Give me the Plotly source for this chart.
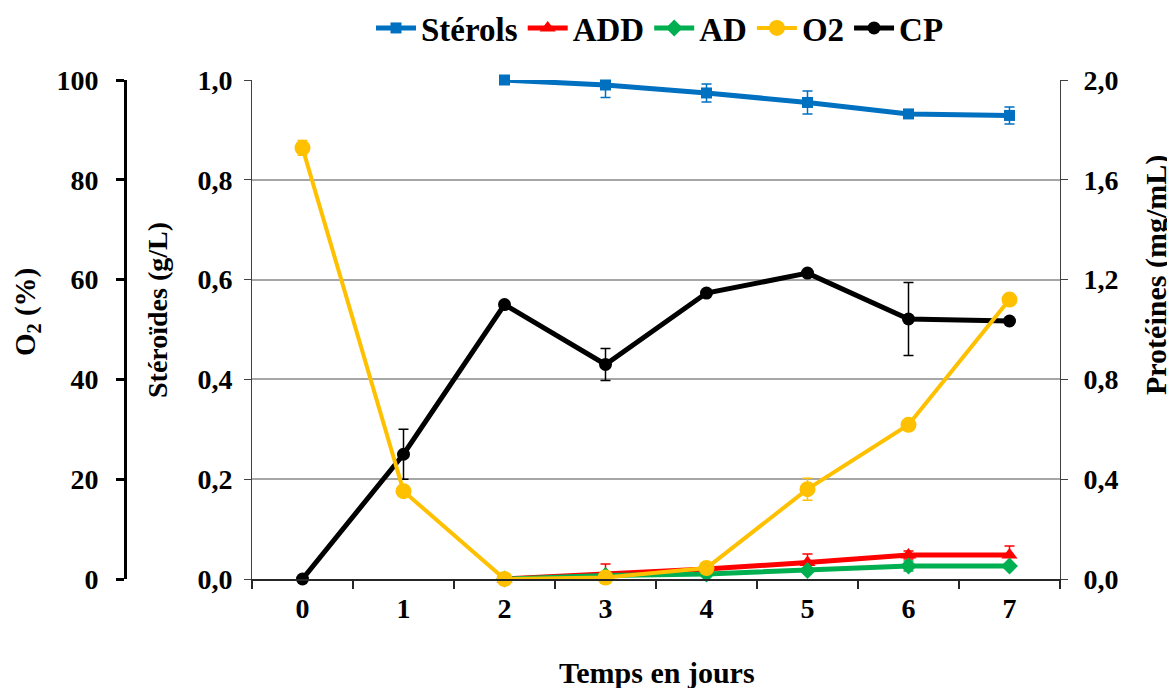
import plotly.graph_objects as go

days = ["0", "1", "2", "3", "4", "5", "6", "7"]

sterols = [None, None, 1.00, 0.990, 0.974, 0.955, 0.932, 0.929]
sterols_err = [0, 0, 0, 0.025, 0.018, 0.023, 0.005, 0.017]

add = [None, None, 0.0, 0.010, 0.020, 0.033, 0.048, 0.048]
add_err = [0, 0, 0, 0.020, 0.005, 0.017, 0.008, 0.018]

ad = [None, None, 0.0, 0.007, 0.010, 0.017, 0.026, 0.026]
ad_err = [0, 0, 0, 0.003, 0.004, 0.005, 0.010, 0.004]

o2 = [86.4, 17.6, 0.0, 0.3, 2.2, 18.0, 30.9, 56.0]
o2_err = [1.5, 0.8, 0, 0.5, 0.5, 2.2, 0.8, 0.8]

cp = [0.0, 0.50, 1.10, 0.86, 1.146, 1.226, 1.042, 1.034]
cp_err = [0, 0.10, 0, 0.064, 0, 0, 0.146, 0]

FONT = "Liberation Serif"
FS = 28
OFF = 8  # default page body margin

fig = go.Figure()

def err(vals, color):
    return dict(type="data", array=vals, visible=True, color=color, thickness=1.5, width=5)

common = dict(mode="lines+markers", cliponaxis=False)
fig.add_trace(go.Scatter(x=days, y=sterols, name="Stérols",
                         line=dict(color="#0070C0", width=5),
                         marker=dict(symbol="square", size=11, color="#0070C0"),
                         error_y=err(sterols_err, "#0070C0"), yaxis="y", **common))
fig.add_trace(go.Scatter(x=days, y=add, name="ADD",
                         line=dict(color="#FF0000", width=5),
                         marker=dict(symbol="triangle-up", size=14, color="#FF0000"),
                         error_y=err(add_err, "#FF0000"), yaxis="y", **common))
fig.add_trace(go.Scatter(x=days, y=ad, name="AD",
                         line=dict(color="#00B050", width=5),
                         marker=dict(symbol="diamond", size=13, color="#00B050"),
                         error_y=err(ad_err, "#00B050"), yaxis="y", **common))
fig.add_trace(go.Scatter(x=days, y=o2, name="O2",
                         line=dict(color="#FFC000", width=4),
                         marker=dict(symbol="circle", size=16, color="#FFC000"),
                         error_y=err(o2_err, "#FFC000"), yaxis="y3", **common))
fig.add_trace(go.Scatter(x=days, y=cp, name="CP",
                         line=dict(color="#000000", width=5),
                         marker=dict(symbol="circle", size=13, color="#000000"),
                         error_y=err(cp_err, "#000000"), yaxis="y2", **common))

W, H = 1175, 688
x0, x1 = 252 - OFF, 1060 - OFF
top, bottom = 80 - OFF, 579 - OFF
PH = bottom - top


def px(xp):
    return (xp - OFF) / W


def py(yp):
    return (bottom + OFF - yp) / PH


def vtitle(text, xp, yp, size):
    return dict(text=text, x=px(xp), y=py(yp), xref="paper", yref="paper",
                xanchor="center", yanchor="middle", textangle=-90, showarrow=False,
                font=dict(family=FONT, size=size, color="black"))


annotations = [
    vtitle("<b>O<sub>2</sub> (%)</b>", 27, 312, 29),
    vtitle("<b>Stéroïdes (g/L)</b>", 157, 310, 28),
    vtitle("<b>Protéines (mg/mL)</b>", 1156, 275, 30),
    dict(text="<b>Temps en jours</b>", x=px(657), y=py(672), xref="paper", yref="paper",
         xanchor="center", yanchor="middle", showarrow=False,
         font=dict(family=FONT, size=30, color="black")),
]

fig.update_layout(
    width=W, height=H,
    paper_bgcolor="white", plot_bgcolor="white",
    margin=dict(l=0, r=0, t=top, b=H - bottom),
    separators=", ",
    font=dict(family=FONT, size=FS, color="black"),
    showlegend=True,
    legend=dict(orientation="h", x=(660 - OFF) / W, xanchor="center",
                y=1 - (28 - OFF) / H, yanchor="middle", yref="container",
                font=dict(family=FONT, size=33, weight="bold"),
                itemwidth=40, tracegroupgap=0, bgcolor="rgba(0,0,0,0)"),
    annotations=annotations,
    xaxis=dict(domain=[x0 / W, x1 / W], type="category", range=[-0.5, 7.5],
               showline=True, linecolor="#262626", linewidth=2,
               ticks="outside", ticklen=8, tickwidth=2, tickcolor="#262626", tickson="boundaries",
               ticklabelstandoff=3,
               tickfont=dict(family=FONT, size=FS, weight="bold"),
               showgrid=False, zeroline=False),
    yaxis=dict(range=[0, 1], dtick=0.2, tickformat=".1f", side="left",
               showline=True, linecolor="#404040", linewidth=1,
               ticks="outside", ticklen=7, tickcolor="#404040",
               ticklabelstandoff=6,
               tickfont=dict(family=FONT, size=FS, weight="bold"),
               showgrid=True, gridcolor="#A6A6A6", gridwidth=2, zeroline=False),
    yaxis2=dict(range=[0, 2], dtick=0.4, tickformat=".1f", side="right", overlaying="y", anchor="x",
                showline=True, linecolor="#404040", linewidth=1,
                ticks="outside", ticklen=7, tickcolor="#404040",
                ticklabelstandoff=10,
                tickfont=dict(family=FONT, size=FS, weight="bold"),
                showgrid=False, zeroline=False),
    yaxis3=dict(range=[0, 100], dtick=20, side="left", overlaying="y", anchor="free",
                position=(125 - OFF) / W,
                showline=True, linecolor="black", linewidth=3,
                ticks="outside", ticklen=8, tickwidth=3, tickcolor="black",
                ticklabelstandoff=12,
                tickfont=dict(family=FONT, size=FS, weight="bold"),
                showgrid=False, zeroline=False),
)

fig.write_html("out.html")
